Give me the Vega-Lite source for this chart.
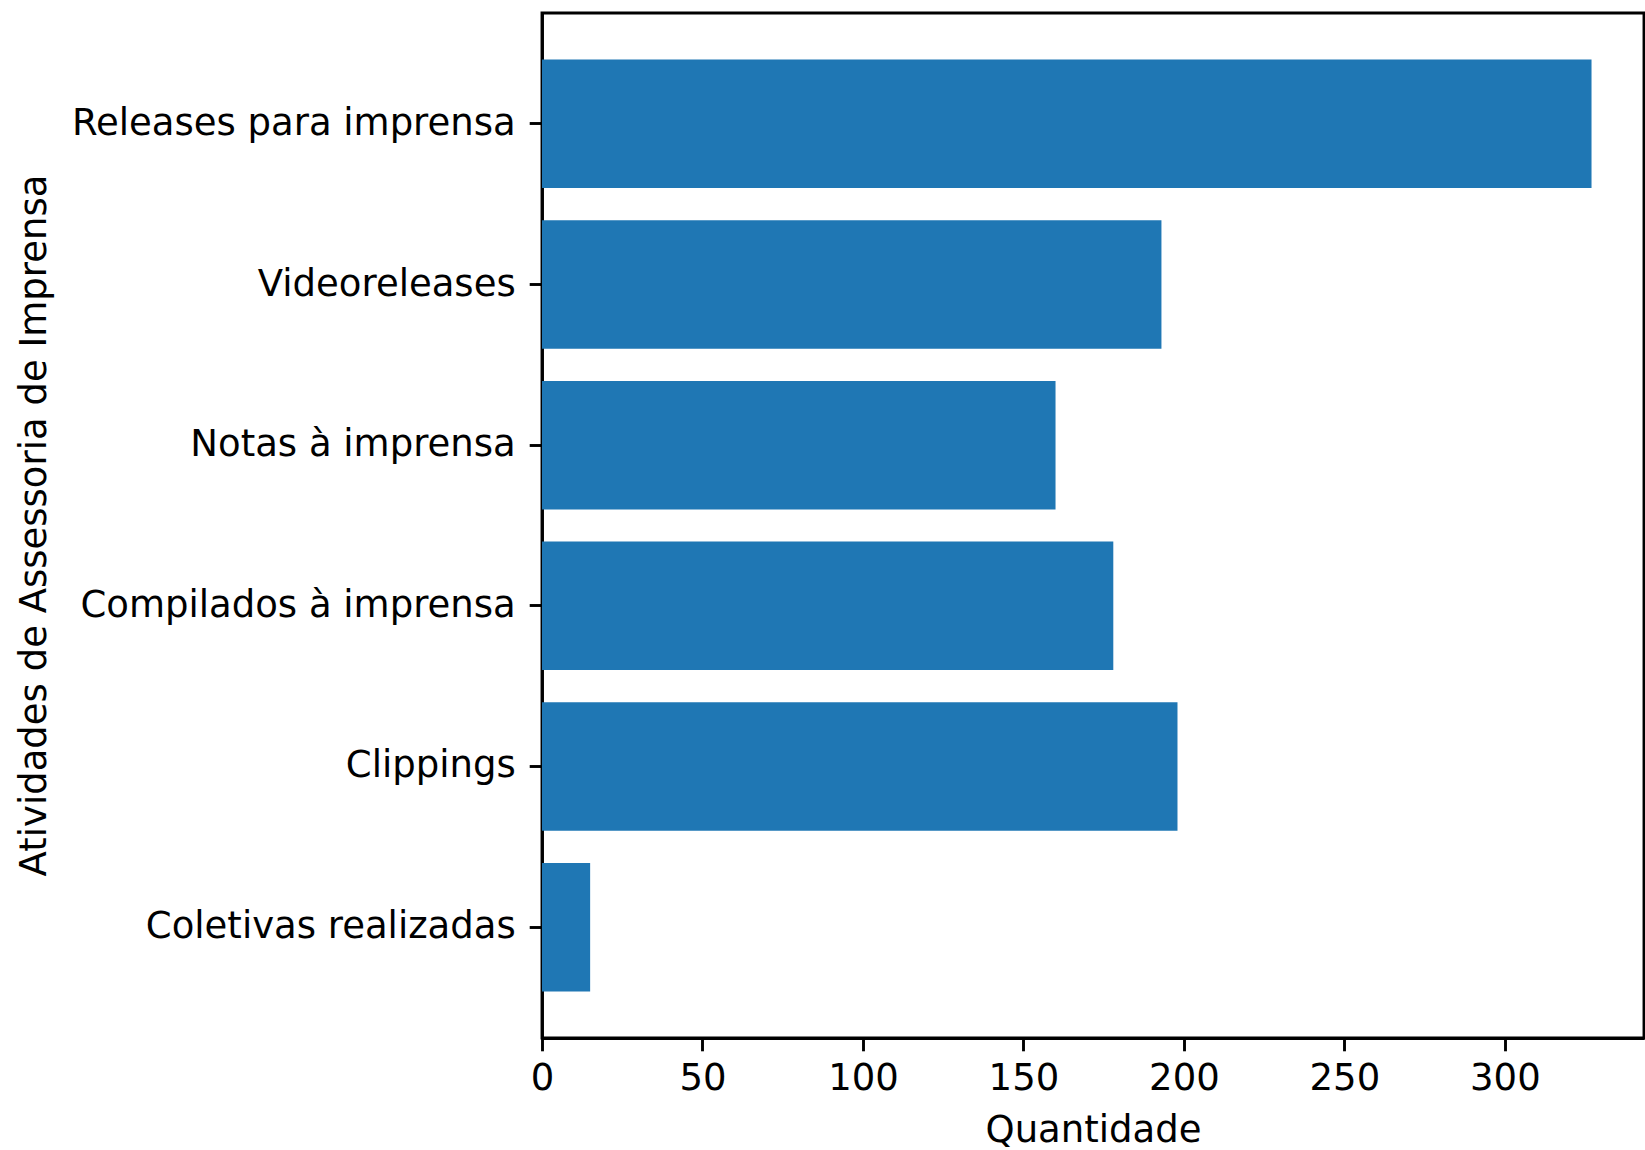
{
  "$schema": "https://vega.github.io/schema/vega-lite/v6.json",
  "autosize": {"type": "none"},
  "padding": {"left": 542, "top": 13, "right": 1, "bottom": 112},
  "width": 1102,
  "height": 1025,
  "background": "white",
  "config": {
    "font": "DejaVu Sans",
    "view": {"stroke": "black", "strokeWidth": 2.9},
    "axis": {
      "labelFont": "DejaVu Sans",
      "titleFont": "DejaVu Sans",
      "labelFontSize": 37,
      "titleFontSize": 37,
      "labelColor": "black",
      "titleColor": "black",
      "titleFontWeight": "normal",
      "domainColor": "black",
      "domainWidth": 2.9,
      "tickColor": "black",
      "tickWidth": 2.9,
      "tickSize": 12.8,
      "labelLimit": 0,
      "grid": false
    }
  },
  "data": {
    "values": [
      {"atividade": "Releases para imprensa", "quantidade": 327},
      {"atividade": "Videoreleases", "quantidade": 193},
      {"atividade": "Notas à imprensa", "quantidade": 160},
      {"atividade": "Compilados à imprensa", "quantidade": 178},
      {"atividade": "Clippings", "quantidade": 198},
      {"atividade": "Coletivas realizadas", "quantidade": 15}
    ]
  },
  "mark": {"type": "bar", "color": "#1f77b4"},
  "encoding": {
    "y": {
      "field": "atividade",
      "type": "nominal",
      "sort": null,
      "scale": {"paddingInner": 0.2, "paddingOuter": 0.29},
      "axis": {
        "title": "Atividades de Assessoria de Imprensa",
        "labelPadding": 14,
        "titleX": -508,
        "titleY": 512,
        "titleAngle": 270,
        "titleAlign": "center",
        "titleBaseline": "middle"
      }
    },
    "x": {
      "field": "quantidade",
      "type": "quantitative",
      "scale": {"domain": [0, 343.35], "nice": false, "zero": true},
      "axis": {
        "title": "Quantidade",
        "values": [0, 50, 100, 150, 200, 250, 300],
        "labelPadding": 10,
        "titlePadding": 16,
        "labelFlush": false
      }
    }
  }
}
